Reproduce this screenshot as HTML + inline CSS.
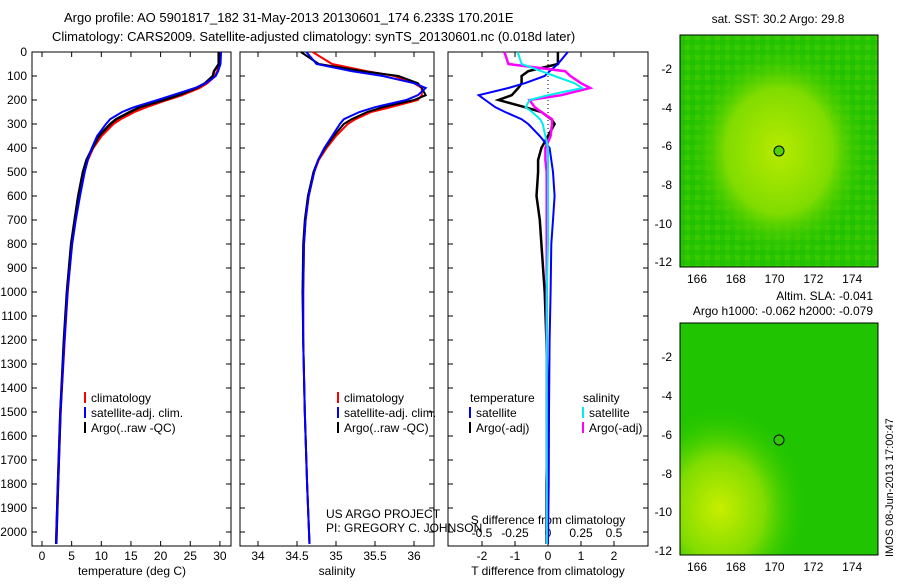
<!DOCTYPE html>
<html><head><meta charset="utf-8"><style>
body{margin:0;background:#fff;}
svg{font-family:"Liberation Sans",sans-serif;font-size:12px;}
</style></head><body>
<svg id="c" width="900" height="580" viewBox="0 0 900 580">
<defs>
<radialGradient id="g1" cx="0.5" cy="0.5" r="0.45"><stop offset="0" stop-color="#b8ea00"/><stop offset="0.6" stop-color="#80dc00"/><stop offset="1" stop-color="#30c800" stop-opacity="0"/></radialGradient>
<radialGradient id="g2" cx="0.2" cy="0.8" r="0.45"><stop offset="0" stop-color="#c8ee00"/><stop offset="0.5" stop-color="#80dc00"/><stop offset="1" stop-color="#20c800" stop-opacity="0"/></radialGradient>
<pattern id="px" width="10" height="10" patternUnits="userSpaceOnUse"><rect width="5" height="5" fill="#00b000" opacity="0.15"/><rect x="5" y="5" width="5" height="5" fill="#a0e800" opacity="0.15"/></pattern>
</defs>
<text x="64" y="22" font-size="13">Argo profile: AO 5901817_182 31-May-2013 20130601_174 6.233S 170.201E</text>
<text x="52" y="41" font-size="13">Climatology: CARS2009. Satellite-adjusted climatology: synTS_20130601.nc (0.018d later)</text>
<g id="axes"></g>
<g id="marks"></g>
<text x="778" y="23" text-anchor="middle">sat. SST: 30.2 Argo: 29.8</text>
<g>
<rect x="680" y="35" width="198" height="232" fill="#28c400"/>
<rect x="680" y="35" width="198" height="232" fill="url(#px)"/>
<rect x="680" y="35" width="198" height="232" fill="url(#g1)"/>
<circle cx="779" cy="151" r="5" fill="#50d000" stroke="#000"/>
<rect x="680" y="35" width="198" height="232" fill="none" stroke="#000"/>
</g>
<text x="873" y="300" text-anchor="end">Altim. SLA: -0.041</text>
<text x="873" y="315" text-anchor="end">Argo h1000: -0.062 h2000: -0.079</text>
<g>
<rect x="680" y="323" width="198" height="232" fill="#20c400"/>
<rect x="680" y="323" width="198" height="232" fill="url(#g2)"/>
<circle cx="779" cy="440" r="5" fill="#30c800" stroke="#000"/>
<rect x="680" y="323" width="198" height="232" fill="none" stroke="#000"/>
</g>
<text transform="translate(893,557) rotate(-90)" font-size="11">IMOS 08-Jun-2013 17:00:47</text>
<text x="326" y="518">US ARGO PROJECT</text>
<text x="326" y="532">PI: GREGORY C. JOHNSON</text>
</svg>
<script>
const depths=[0,50,80,100,130,150,180,200,230,250,280,300,350,400,450,500,600,700,800,1000,1200,1500,1800,2050];
const tempClim=[30.0,30.0,29.6,29.2,27.8,26.5,23.5,21.0,17.5,15.5,13.2,12.0,10.0,8.6,7.7,7.1,6.3,5.6,5.0,4.3,3.8,3.1,2.7,2.4];
const tempSat=[30.2,30.1,29.7,29.3,27.6,25.8,22.0,19.5,15.5,13.5,11.5,10.8,9.3,8.4,7.7,7.2,6.4,5.7,5.1,4.3,3.8,3.1,2.7,2.4];
const tempArgo=[29.8,29.8,29.0,28.8,27.5,26.0,23.0,20.5,16.5,14.8,12.5,11.5,9.6,8.5,7.5,6.9,6.1,5.5,4.9,4.2,3.7,3.1,2.7,2.4];
const salClim=[34.7,34.95,35.4,35.75,36.0,36.1,36.1,36.05,35.7,35.45,35.25,35.15,35.0,34.88,34.78,34.72,34.65,34.61,34.59,34.58,34.58,34.6,34.63,34.66];
const salSat=[34.62,34.75,35.2,35.6,36.0,36.15,36.05,35.9,35.5,35.3,35.1,35.05,34.95,34.85,34.77,34.72,34.65,34.61,34.59,34.58,34.58,34.6,34.63,34.66];
const salArgo=[34.55,34.78,35.35,35.8,36.05,36.1,36.15,36.0,35.6,35.4,35.2,35.1,34.97,34.86,34.77,34.71,34.64,34.6,34.58,34.57,34.58,34.6,34.63,34.66];
const dTsat=[0.6,0.3,0.05,-0.1,-0.7,-1.2,-2.1,-1.9,-1.6,-1.3,-0.8,-0.6,-0.25,0.05,0.1,0.15,0.2,0.15,0.1,0.08,0.05,0.03,0.02,0.0];
const dTargo=[0.3,0.3,-0.6,-0.8,-0.8,-0.9,-1.1,-1.5,-0.7,-0.2,0.1,0.2,0.0,-0.2,-0.3,-0.3,-0.35,-0.25,-0.2,-0.1,-0.05,0.0,-0.05,-0.05];
const dSsat=[-0.23,-0.2,-0.05,0.05,0.2,0.26,0.0,-0.14,-0.17,-0.12,-0.06,-0.04,-0.02,0.0,0.0,0.0,0.0,0.0,0.0,-0.01,-0.01,-0.01,-0.01,-0.01];
const dSargo=[-0.33,-0.3,0.13,0.17,0.25,0.32,0.1,-0.14,-0.1,-0.05,0.03,0.03,0.02,-0.02,-0.02,-0.01,-0.01,-0.01,-0.01,-0.01,-0.01,-0.01,-0.01,-0.01];
const depthTicks=[0,100,200,300,400,500,600,700,800,900,1000,1100,1200,1300,1400,1500,1600,1700,1800,1900,2000];
const tempTicks=[0,5,10,15,20,25,30];
const salTicks=[34,34.5,35,35.5,36];
const dTTicks=[-2,-1,0,1,2];
const dSTicks=["-0.5","-0.25","0","0.25","0.5"];
const lonTicks=[166,168,170,172,174];
const latTicks=[-2,-4,-6,-8,-10,-12];

const NS="http://www.w3.org/2000/svg";
const axesG=document.getElementById('axes'),marksG=document.getElementById('marks');
const yD=d=>52+d*0.24;
const xT=t=>42+t*5.93;
const xS=s=>258+(s-34)*78;
const xDT=t=>548+t*33;
const xDS=s=>548+s*132;
const xLon=v=>697+(v-166)*19.4;
function mk(tag,at,parent){const e=document.createElementNS(NS,tag);for(const k in at)e.setAttribute(k,at[k]);parent.appendChild(e);return e;}
const panels=[{x0:32,x1:231},{x0:240,x1:434},{x0:448,x1:648}];
const yTop=52,yBot=546;
panels.forEach((p,i)=>{
 const r=mk('rect',{x:p.x0,y:yTop,width:p.x1-p.x0,height:yBot-yTop,fill:'none',stroke:'#000'},axesG);
 
 
 depthTicks.forEach(d=>{
  mk('line',{x1:p.x0,x2:p.x0+5,y1:yD(d),y2:yD(d),stroke:'#000'},axesG);
  mk('line',{x1:p.x1-5,x2:p.x1,y1:yD(d),y2:yD(d),stroke:'#000'},axesG);
 });
});
depthTicks.forEach(d=>{
 const t=mk('text',{x:27,y:yD(d)+4,'text-anchor':'end'},axesG);t.textContent=d;
 
 
});
function xticks(vals,f){
 vals.forEach(v=>{const x=f(v);
  mk('line',{x1:x,x2:x,y1:yBot,y2:yBot-5,stroke:'#000'},axesG);
  mk('line',{x1:x,x2:x,y1:yTop,y2:yTop+5,stroke:'#000'},axesG);
  const t=mk('text',{x:x,y:yBot+14,'text-anchor':'middle'},axesG);t.textContent=v;
  
  
 });
}
xticks(tempTicks,xT);
xticks(salTicks,xS);
xticks(dTTicks,xDT);
dSTicks.forEach(s=>{const x=xDS(parseFloat(s));const t=mk('text',{x:x,y:537,'text-anchor':'middle'},axesG);t.textContent=s;
 
 });
[[132,'temperature (deg C)','temperature-axis-title'],[337,'salinity','salinity-axis-title'],[548,'T difference from climatology','t-diff-axis-title']].forEach(a=>{
 const t=mk('text',{x:a[0],y:575,'text-anchor':'middle'},axesG);t.textContent=a[1];
 
 });
const st=mk('text',{x:548,y:524,'text-anchor':'middle'},axesG);st.textContent='S difference from climatology';


const zl=mk('line',{x1:548,x2:548,y1:yTop,y2:yD(420),stroke:'#000','stroke-dasharray':'1 3'},axesG);


function line(vals,f,color,w,name){
 const d=vals.map((v,i)=>(i?'L':'M')+f(v).toFixed(1)+','+yD(depths[i]).toFixed(1)).join('');
 const p=mk('path',{d:d,fill:'none',stroke:color,'stroke-width':w},marksG);
 
 
}
line(tempClim,xT,'#f00',2.5,'temp-climatology-line');
line(tempArgo,xT,'#000',2.5,'temp-argo-line');
line(tempSat,xT,'#00f',2,'temp-satellite-line');
line(salClim,xS,'#f00',2,'sal-climatology-line');
line(salArgo,xS,'#000',2,'sal-argo-line');
line(salSat,xS,'#00f',2,'sal-satellite-line');
line(dTargo,xDT,'#000',2.5,'tdiff-argo-line');
line(dTsat,xDT,'#00f',2,'tdiff-satellite-line');
line(dSargo,xDS,'#f0f',2.5,'sdiff-argo-line');
line(dSsat,xDS,'#0ee',2,'sdiff-satellite-line');
function legend(x,y,items,name){
 items.forEach((it,i)=>{
  const yy=y+i*15;
  if(it[0]){const l=mk('line',{x1:x,x2:x,y1:yy-10,y2:yy+1,stroke:it[0],'stroke-width':2},marksG);
   
   }
  const t=mk('text',{x:x+(it[0]?6:0),y:yy},marksG);t.textContent=it[1];
  
  
 });
}
const std=[['#f00','climatology'],['#00f','satellite-adj. clim.'],['#000','Argo(..raw -QC)']];
legend(85,402,std,'temp-legend');
legend(338,402,std,'sal-legend');
legend(470,402,[[null,'temperature'],['#00f','satellite'],['#000','Argo(-adj)']],'tdiff-legend');
legend(583,402,[[null,' salinity'],['#0ee','satellite'],['#f0f','Argo(-adj)']],'sdiff-legend');
function mapAxes(y0,yticks,name){
 lonTicks.forEach(v=>{const x=xLon(v);
  mk('line',{x1:x,x2:x,y1:y0,y2:y0+4,stroke:'#000'},axesG);
  const t=mk('text',{x:x,y:y0+248,'text-anchor':'middle'},axesG);t.textContent=v;
  
  });
 yticks.forEach((yy,i)=>{
  mk('line',{x1:878,x2:874,y1:yy,y2:yy,stroke:'#000'},axesG);
  const t=mk('text',{x:672,y:yy+4,'text-anchor':'end'},axesG);t.textContent=latTicks[i];
  
  });
}
mapAxes(35,[69,108,146,185,224,262],'sst-map');
mapAxes(323,[357,396,435,474,512,551],'sla-map');
</script>
</body></html>
